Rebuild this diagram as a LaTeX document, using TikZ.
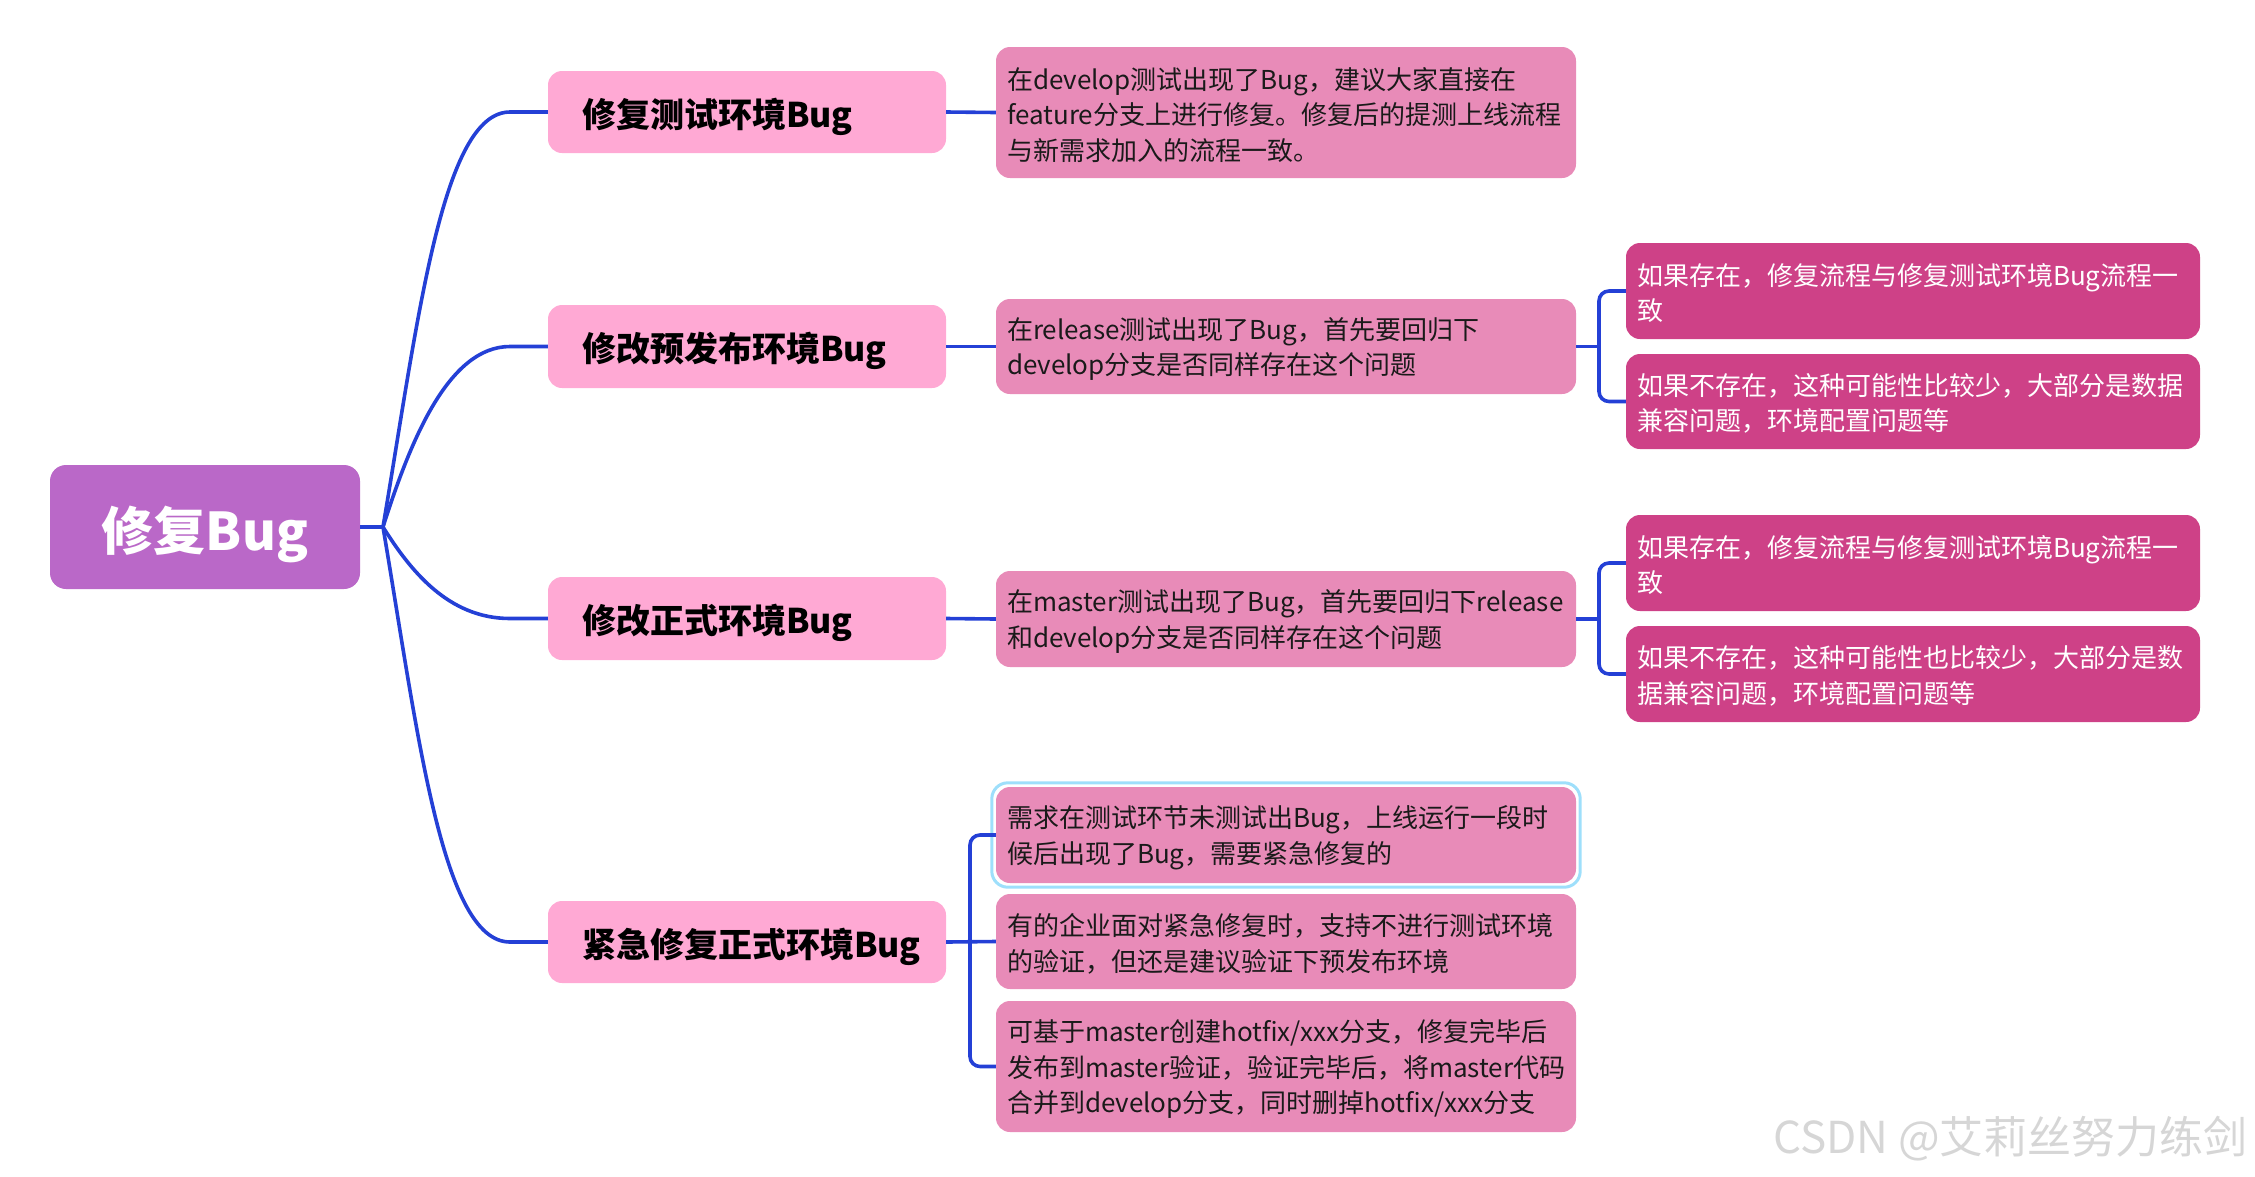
\documentclass[tikz,border=0pt]{standalone}
\usepackage{fontspec}
\setmainfont{Noto Sans CJK SC}
\usepackage{xcolor}
\usepackage{tikz}
\definecolor{RootFill}{HTML}{BA68C8}
\definecolor{TopicFill}{HTML}{FFA9D4}
\definecolor{NoteFill}{HTML}{E88BB8}
\definecolor{LeafFill}{HTML}{CE4187}
\definecolor{NoteText}{HTML}{1A1A1A}
\definecolor{LinkBlue}{HTML}{2440D6}
\definecolor{RingBlue}{HTML}{9EDFFB}
\definecolor{MarkGray}{HTML}{D6D6D6}
\newcommand{\rootfont}{\fontsize{52}{60}\selectfont\bfseries}
\newcommand{\topicfont}{\fontsize{34}{40}\selectfont\bfseries}
\newcommand{\notefont}{\fontsize{26}{35.5}\selectfont}
\newcommand{\markfont}{\fontsize{44}{50}\selectfont}
\tikzset{
  rootbox/.style={fill=RootFill, rounded corners=16pt, minimum width=310pt, minimum height=124pt, inner sep=0pt, text height=46pt, text depth=0pt, text=white, font=\rootfont},
  topicbox/.style={fill=TopicFill, rounded corners=14pt, text width=330pt, inner xsep=34pt, inner ysep=0pt, text height=30pt, text depth=0pt, align=left, text=black, font=\topicfont},
  notebox/.style={fill=NoteFill, rounded corners=14pt, text width=558pt, inner xsep=11pt, inner ysep=0pt, align=left, text=NoteText, font=\notefont, execute at begin node={\rule{0pt}{27pt}}},
  leafbox/.style={fill=LeafFill, rounded corners=14pt, text width=552pt, inner xsep=11pt, inner ysep=0pt, align=left, text=white, font=\notefont, execute at begin node={\rule{0pt}{26pt}}},
  link/.style={draw=LinkBlue, line width=3.6pt},
  ring/.style={draw=RingBlue, line width=3pt, rounded corners=16pt}
}

\begin{document}
\begin{tikzpicture}[x=1pt,y=-1pt]
  \useasboundingbox (0,0) rectangle (2255,1176);

  %% Root
  \node[rootbox] (root) at (205,527) {修复Bug};
  \coordinate (hub) at (383,527);

  %% Topics
  \node[topicbox, minimum height=82pt] (t1) at (747,112) {修复测试环境Bug};
  \node[topicbox, minimum height=83pt] (t2) at (747,346.5) {修改预发布环境Bug};
  \node[topicbox, minimum height=83pt] (t3) at (747,618.5) {修改正式环境Bug};
  \node[topicbox, minimum height=82pt] (t4) at (747,942) {紧急修复正式环境Bug};

  %% Notes
  \node[notebox, minimum height=131pt] (d1) at (1286,112.5) {在develop测试出现了Bug，建议大家直接在\\feature分支上进行修复。修复后的提测上线流程\\与新需求加入的流程一致。};
  \node[notebox, minimum height=95pt] (d2) at (1286,346.5) {在release测试出现了Bug，首先要回归下\\develop分支是否同样存在这个问题};
  \node[notebox, minimum height=96pt] (d3) at (1286,619) {在master测试出现了Bug，首先要回归下release\\和develop分支是否同样存在这个问题};
  \node[notebox, minimum height=96pt] (d4) at (1286,835) {需求在测试环节未测试出Bug，上线运行一段时\\候后出现了Bug，需要紧急修复的};
  \node[notebox, minimum height=95pt] (d5) at (1286,941.5) {有的企业面对紧急修复时，支持不进行测试环境\\的验证，但还是建议验证下预发布环境};
  \node[notebox, minimum height=131pt] (d6) at (1286,1066.5) {可基于master创建hotfix/xxx分支，修复完毕后\\发布到master验证，验证完毕后，将master代码\\合并到develop分支，同时删掉hotfix/xxx分支};
  \draw[ring] ([shift={(-4pt,4pt)}]d4.north west) rectangle ([shift={(4pt,-4pt)}]d4.south east);

  %% Leaves
  \node[leafbox, minimum height=96pt] (e1) at (1913,291) {如果存在，修复流程与修复测试环境Bug流程一\\致};
  \node[leafbox, minimum height=95pt] (e2) at (1913,401.5) {如果不存在，这种可能性比较少，大部分是数据\\兼容问题，环境配置问题等};
  \node[leafbox, minimum height=96pt] (e3) at (1913,563) {如果存在，修复流程与修复测试环境Bug流程一\\致};
  \node[leafbox, minimum height=96pt] (e4) at (1913,674) {如果不存在，这种可能性也比较少，大部分是数\\据兼容问题，环境配置问题等};

  %% Root -> topics
  \draw[link] (root.east) -- (hub);
  \draw[link] (hub) .. controls (418,320) and (442,112) .. (510,0 |- t1.west) -- (t1.west);
  \draw[link] (hub) .. controls (410,442) and (448,346.5) .. (510,0 |- t2.west) -- (t2.west);
  \draw[link] (hub) .. controls (410,570) and (448,618.5) .. (510,0 |- t3.west) -- (t3.west);
  \draw[link] (hub) .. controls (418,734) and (442,942) .. (510,0 |- t4.west) -- (t4.west);

  %% Topics -> notes
  \draw[link] (t1.east) -- (d1.west);
  \draw[link] (t2.east) -- (d2.west);
  \draw[link] (t3.east) -- (d3.west);
  \coordinate (j4) at (970,942);
  \draw[link] (t4.east) -- (d5.west);
  \draw[link, rounded corners=10pt] (d4.west) -| (j4) |- (d6.west);

  %% Notes -> leaves
  \coordinate (j2) at (1599,346.5);
  \draw[link] (d2.east) -- (j2);
  \draw[link, rounded corners=10pt] (e1.west) -| (j2) |- (e2.west);
  \coordinate (j3) at (1599,619);
  \draw[link] (d3.east) -- (j3);
  \draw[link, rounded corners=10pt] (e3.west) -| (j3) |- (e4.west);

  %% Watermark
  \node[font=\markfont, text=MarkGray, anchor=west, inner sep=0pt] (mark) at (1773,1139) {CSDN @艾莉丝努力练剑};
\end{tikzpicture}
\end{document}
